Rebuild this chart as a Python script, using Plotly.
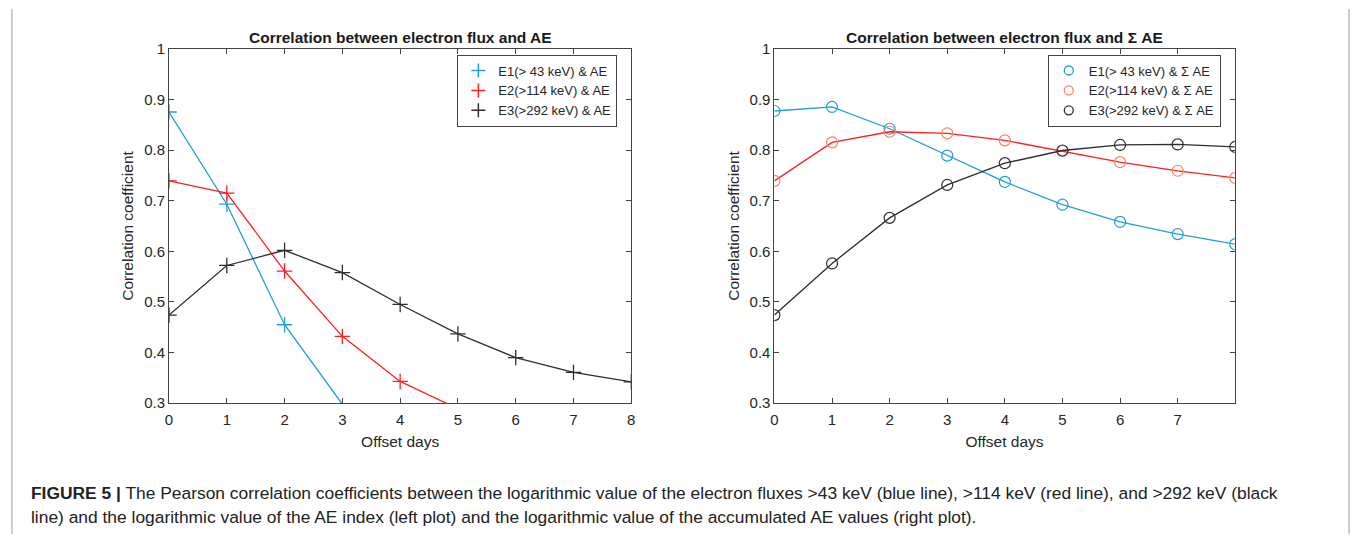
import plotly.graph_objects as go

# Offset in days
days_ae = [0, 1, 2, 3, 4, 5, 6, 7, 8]
days_sum = [0, 1, 2, 3, 4, 5, 6, 7, 8]

# Correlation between electron flux and AE
e1_ae = [0.875, 0.693, 0.455, 0.298]
e2_ae = [0.739, 0.715, 0.561, 0.432, 0.343, 0.289]
e3_ae = [0.474, 0.572, 0.602, 0.558, 0.495, 0.437, 0.390, 0.361, 0.342]

# Correlation between electron flux and accumulated AE
e1_sum = [0.877, 0.885, 0.842, 0.789, 0.737, 0.692, 0.658, 0.634, 0.614]
e2_sum = [0.739, 0.815, 0.836, 0.833, 0.819, 0.798, 0.776, 0.759, 0.745]
e3_sum = [0.474, 0.576, 0.666, 0.731, 0.774, 0.799, 0.810, 0.811, 0.806]

names_ae = ["E1(> 43 keV) & AE", "E2(>114 keV) & AE", "E3(>292 keV) & AE"]
names_sum = ["E1(> 43 keV) & \u03a3 AE", "E2(>114 keV) & \u03a3 AE", "E3(>292 keV) & \u03a3 AE"]

y_ticks = [0.3, 0.4, 0.5, 0.6, 0.7, 0.8, 0.9, 1.0]
y_ticktext = ["0.3", "0.4", "0.5", "0.6", "0.7", "0.8", "0.9", "1"]
x_ticks_ae = [0, 1, 2, 3, 4, 5, 6, 7, 8]
x_ticks_sum = [0, 1, 2, 3, 4, 5, 6, 7]

BLUE = "#1f9ede"
RED = "#ff1f1f"
CORAL = "#f6855e"
BLACK = "#2e2e2e"
YMIN, YMAX = 0.3, 1.0

W, H = 1356, 542
FONT = "Liberation Sans, Arial, sans-serif"

fig = go.Figure()


def visible(vals):
    # hide markers that fall below the axis floor
    return [1 if v >= YMIN else 0 for v in vals]


left_series = [(e1_ae, BLUE, BLUE), (e2_ae, RED, RED), (e3_ae, BLACK, BLACK)]
for (vals, lc, mc), name in zip(left_series, names_ae):
    fig.add_trace(go.Scatter(
        x=days_ae[:len(vals)], y=vals, mode="lines+markers",
        line=dict(color=lc, width=1.3),
        marker=dict(symbol="cross-thin", size=11, opacity=visible(vals),
                    line=dict(color=mc, width=1.3)),
        xaxis="x", yaxis="y", showlegend=False, hoverinfo="skip"))
    fig.add_trace(go.Scatter(
        x=[None], y=[None], mode="markers", name=name,
        marker=dict(symbol="cross-thin", size=10, line=dict(color=mc, width=1.5)),
        xaxis="x", yaxis="y", legend="legend"))

right_series = [(e1_sum, BLUE, BLUE), (e2_sum, RED, CORAL), (e3_sum, BLACK, BLACK)]
for (vals, lc, mc), name in zip(right_series, names_sum):
    fig.add_trace(go.Scatter(
        x=days_sum[:len(vals)], y=vals, mode="lines+markers",
        line=dict(color=lc, width=1.3),
        marker=dict(symbol="circle-open", size=11, color=mc,
                    line=dict(color=mc, width=1.2)),
        xaxis="x2", yaxis="y2", showlegend=False, hoverinfo="skip"))
    fig.add_trace(go.Scatter(
        x=[None], y=[None], mode="markers", name=name,
        marker=dict(symbol="circle-open", size=9, color=mc,
                    line=dict(color=mc, width=1.3)),
        xaxis="x2", yaxis="y2", legend="legend2"))

axis_common = dict(
    showline=True, linecolor="#444444", linewidth=1, mirror="ticks",
    ticks="inside", ticklen=5, tickcolor="#444444", tickwidth=1,
    showgrid=False, zeroline=False,
    tickfont=dict(family=FONT, size=15, color="#262626"),
)
title_font = dict(family=FONT, size=15.5, color="#262626")

y0 = 1 - 407 / H
y1 = 1 - 41 / H

legend_common = dict(
    yanchor="top", xanchor="right", bgcolor="white",
    bordercolor="#444444", borderwidth=1,
    font=dict(family=FONT, size=13, color="#262626"),
    tracegroupgap=0, itemwidth=30,
)

fig.update_layout(
    width=W, height=H,
    margin=dict(l=0, r=0, t=0, b=0),
    paper_bgcolor="white", plot_bgcolor="white",
    font=dict(family=FONT, color="#262626"),
    xaxis=dict(domain=[166 / W, 631 / W], range=[0, 8], tickvals=x_ticks_ae,
               anchor="y", ticklabelstandoff=3,
               title=dict(text="Offset days", font=title_font, standoff=8),
               **axis_common),
    yaxis=dict(domain=[y0, y1], range=[YMIN, YMAX], tickvals=y_ticks,
               ticktext=y_ticktext, anchor="x",
               title=dict(text="Correlation coefficient", font=title_font, standoff=6),
               **axis_common),
    xaxis2=dict(domain=[775 / W, 1238 / W], range=[0, 7.99], tickvals=x_ticks_sum,
                anchor="y2", ticklabelstandoff=3,
                title=dict(text="Offset days", font=title_font, standoff=8),
                **axis_common),
    yaxis2=dict(domain=[y0, y1], range=[YMIN, YMAX], tickvals=y_ticks,
                ticktext=y_ticktext, anchor="x2",
                title=dict(text="Correlation coefficient", font=title_font, standoff=6),
                **axis_common),
    legend=dict(x=617 / W, y=1 - 47 / H, **legend_common),
    legend2=dict(x=1224 / W, y=1 - 47 / H, **legend_common),
)

# Panel titles
panel_titles = ["<b>Correlation between electron flux and AE</b>",
                "<b>Correlation between electron flux and \u03a3 AE</b>"]
panel_centres = [(166 + 631) / 2, (775 + 1238) / 2]
for text, cx in zip(panel_titles, panel_centres):
    fig.add_annotation(text=text, x=cx / W, y=1 - 29 / H, xref="paper", yref="paper",
                       xanchor="center", yanchor="middle", showarrow=False,
                       font=dict(family=FONT, size=15.5, color="#1a1a1a"))

# Figure caption
caption_1 = ("<b>FIGURE 5 |</b> The Pearson correlation coefficients between the logarithmic value "
             "of the electron fluxes &gt;43 keV (blue line), &gt;114 keV (red line), and &gt;292 keV (black")
caption_2 = ("line) and the logarithmic value of the AE index (left plot) and the logarithmic value "
             "of the accumulated AE values (right plot).")
cap_font = dict(family=FONT, size=17.4, color="#222222")
fig.add_annotation(text=caption_1, x=25 / W, y=1 - 500 / H, xref="paper", yref="paper",
                   xanchor="left", yanchor="middle", showarrow=False, font=cap_font)
fig.add_annotation(text=caption_2, x=25 / W, y=1 - 524 / H, xref="paper", yref="paper",
                   xanchor="left", yanchor="middle", showarrow=False, font=cap_font)

# Side rules of the figure frame
for xp in (8, 1353):
    fig.add_shape(type="line", xref="paper", yref="paper",
                  x0=xp / W, x1=xp / W, y0=0, y1=1,
                  line=dict(color="#9a9a9a", width=1))

fig.write_html("out.html")
